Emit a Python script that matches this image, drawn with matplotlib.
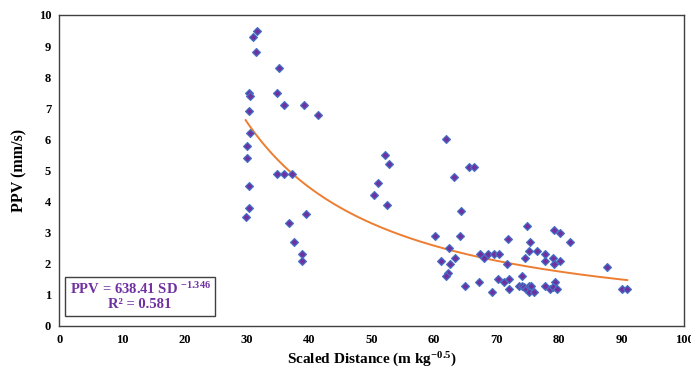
import matplotlib.pyplot as plt
import numpy as np

# scaled distance (m kg^-0.5) and measured PPV (mm/s)
sd = [31.6, 31.0, 31.5, 35.1, 30.3, 30.5, 34.8, 35.9, 39.2, 41.4,
      30.4, 30.5, 30.1, 30.1, 30.4, 30.3, 29.8, 34.9, 36.0, 37.3,
      36.8, 39.5, 37.6, 38.9, 38.9,
      52.1, 52.7, 51.0, 50.4, 52.5,
      61.9, 65.6, 66.4, 63.2, 64.3, 60.1, 64.2, 62.3, 61.1, 63.3,
      62.6, 62.2, 61.9, 65.0, 67.1, 69.2, 70.2,
      67.3, 67.9, 68.6, 69.5, 70.3, 71.1, 71.8, 71.7, 71.9, 71.9,
      74.0, 73.6, 74.0, 74.3, 74.7, 75.1, 75.5, 75.2, 76.0,
      74.9, 75.4, 75.1, 74.6, 76.5, 77.7, 77.7, 77.7,
      79.1, 80.1, 79.0, 79.2, 80.1, 81.8, 79.3, 78.6, 79.0, 79.6,
      87.6, 90.1, 90.9]
ppv = [9.5, 9.3, 8.8, 8.3, 7.5, 7.4, 7.5, 7.1, 7.1, 6.8,
       6.9, 6.2, 5.8, 5.4, 4.5, 3.8, 3.5, 4.9, 4.9, 4.9,
       3.3, 3.6, 2.7, 2.3, 2.1,
       5.5, 5.2, 4.6, 4.2, 3.9,
       6.0, 5.1, 5.1, 4.8, 3.7, 2.9, 2.9, 2.5, 2.1, 2.2,
       2.0, 1.7, 1.6, 1.3, 1.4, 1.1, 1.5,
       2.3, 2.2, 2.3, 2.3, 2.3, 1.4, 2.8, 2.0, 1.5, 1.2,
       1.6, 1.3, 1.3, 1.25, 1.2, 1.3, 1.3, 1.1, 1.1,
       3.2, 2.7, 2.4, 2.2, 2.4, 2.3, 2.1, 1.3,
       3.1, 3.0, 2.2, 2.0, 2.1, 2.7, 1.4, 1.2, 1.25, 1.2,
       1.9, 1.2, 1.2]

# power-law fit reported in the chart
k_fit = 638.41
b_fit = -1.346
r2 = 0.581

plt.rcParams['font.family'] = ['Liberation Serif', 'DejaVu Serif']
plt.rcParams['font.weight'] = 'bold'
plt.rcParams['mathtext.fontset'] = 'custom'
plt.rcParams['mathtext.rm'] = 'Liberation Serif:bold'
plt.rcParams['mathtext.bf'] = 'Liberation Serif:bold'
plt.rcParams['mathtext.it'] = 'Liberation Serif:bold'
plt.rcParams['mathtext.default'] = 'bf'

fig = plt.figure(figsize=(6.91, 3.71), dpi=100)
ax = fig.add_axes([0.0861, 0.1213, 0.9039, 0.8383])

ax.scatter(sd, ppv, marker='D', s=16, facecolor='#7030A0', edgecolor='#4472C4',
           linewidth=0.9, zorder=3)

xf = np.linspace(min(sd), max(sd), 200)
ax.plot(xf, k_fit * xf ** b_fit, color='#ED7D31', linewidth=1.4, zorder=2)

ax.set_xlim(0, 100)
ax.set_ylim(0, 10)
ax.set_xticks(np.arange(0, 101, 10))
ax.set_yticks(np.arange(0, 11, 1))
ax.tick_params(length=0, labelsize=9, pad=6)
for lab in ax.get_xticklabels() + ax.get_yticklabels():
    lab.set_fontweight('bold')
for sp in ax.spines.values():
    sp.set_color('#404040')
    sp.set_linewidth(1.0)

ax.set_xlabel('Scaled Distance (m kg$^{-0.5}$)', fontsize=11,
              fontweight='bold', labelpad=3)
ax.set_ylabel('PPV (mm/s)', fontsize=11.5, fontweight='bold', labelpad=8)

ax.text(0.129, 0.096, 'PPV = %.2f SD $^{%.3f}$\nR² = %.3f' % (k_fit, b_fit, r2),
        transform=ax.transAxes, ha='center', va='center', fontsize=10.5,
        fontweight='bold', color='#7030A0', linespacing=1.15,
        bbox=dict(boxstyle='square,pad=0.3', facecolor='white',
                  edgecolor='#404040', linewidth=1.0))

plt.savefig('out.png', dpi=100)
